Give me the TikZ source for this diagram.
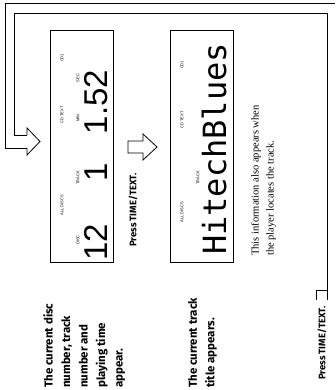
\documentclass[tikz,border=0pt]{standalone}
\usepackage{fontspec}
\setmainfont{Liberation Serif}
\newfontfamily\capfont{Fira Sans}
\newfontfamily\lcdfont{DejaVu Sans Mono}
\newfontfamily\tagfont{Liberation Sans}
\usetikzlibrary{positioning}

\begin{document}
\begin{tikzpicture}[
x=1pt, y=-1pt,
display/.style ={draw, line width=0.8pt, minimum width=63pt, minimum height=232pt, inner sep=0pt},
hollow/.style ={line width=0.8pt, line join=miter},
tag/.style ={rotate=90, inner sep=0pt, font=\tagfont\fontsize{4}{4}\selectfont},
lcd/.style ={rotate=90, inner sep=0pt, font=\lcdfont\fontsize{32}{32}\selectfont},
digits/.style ={rotate=90, inner sep=0pt, font=\tagfont\fontsize{33}{33}\selectfont},
press/.style ={rotate=90, anchor=west, inner sep=0pt, font=\capfont\bfseries\fontsize{9.5}{11}\selectfont},
caption/.style={rotate=90, anchor=north west, align=left, inner sep=0pt, font=\capfont\bfseries\fontsize{11.5}{17.5}\selectfont},
note/.style ={rotate=90, anchor=north west, align=left, inner sep=0pt, font=\fontsize{10.5}{15}\selectfont}
]
\useasboundingbox (0,0) rectangle (335,390);

% first display
\node[display] (disp1) at (81.5,146) {};
\node[tag] (disp1-all) at (62,205) {ALL DISCS};
\node[tag] (disp1-text) at (62,115) {CD TEXT};
\node[tag] (disp1-cd) at (62,58) {CD1};
\node[tag] (disp1-disc) at (78,240) {DISC};
\node[tag] (disp1-track) at (78,178) {TRACK};
\node[tag] (disp1-min) at (78,118) {MIN};
\node[tag] (disp1-sec) at (78,78) {SEC};
\node[digits] (disp1-12) at (96,242) {12};
\node[digits] (disp1-1) at (96,172) {1};
\node[digits] (disp1-time) at (96,102) {1.52};

% second display
\node[display] (disp2) at (201.5,146) {};
\node[tag] (disp2-all) at (182,212) {ALL DISCS};
\node[tag] (disp2-text) at (182,120) {CD TEXT};
\node[tag] (disp2-cd) at (182,65) {CD1};
\node[tag] (disp2-track) at (198,178) {TRACK};
\node[lcd] (disp2-title) at (214,149) {HitechBlues};

\node[note] (info) at (251,256) {This information also appears when\\the player locates the track.};

\node[press] (press1) at (133,247) {Press TIME/TEXT.};
\node[press] (press2) at (322,380) {Press TIME/TEXT.};

\node[caption] (cap1) at (43,388) {The current disc\\number, track\\number and\\playing time\\appear.};
\node[caption] (cap2) at (188,388) {The current track\\title appears.};

% return loop
\draw[hollow] (27,148) -- (5,148) -- (5,3) -- (335,3);
\draw[hollow] (27,135) -- (14,135) -- (14,13) -- (327,13) -- (327,300);
\draw[hollow] (327,290) -- (316,290) -- (316,300);
\draw[hollow] (27,135) -- (27,128) -- (40,141.5) -- (27,155) -- (27,148);

% step arrow
\draw[hollow] (143,141) -- (128,141) -- (128,153) -- (143,153) -- (143,160) -- (157,147) -- (143,134) -- cycle;
\end{tikzpicture}
\end{document}
